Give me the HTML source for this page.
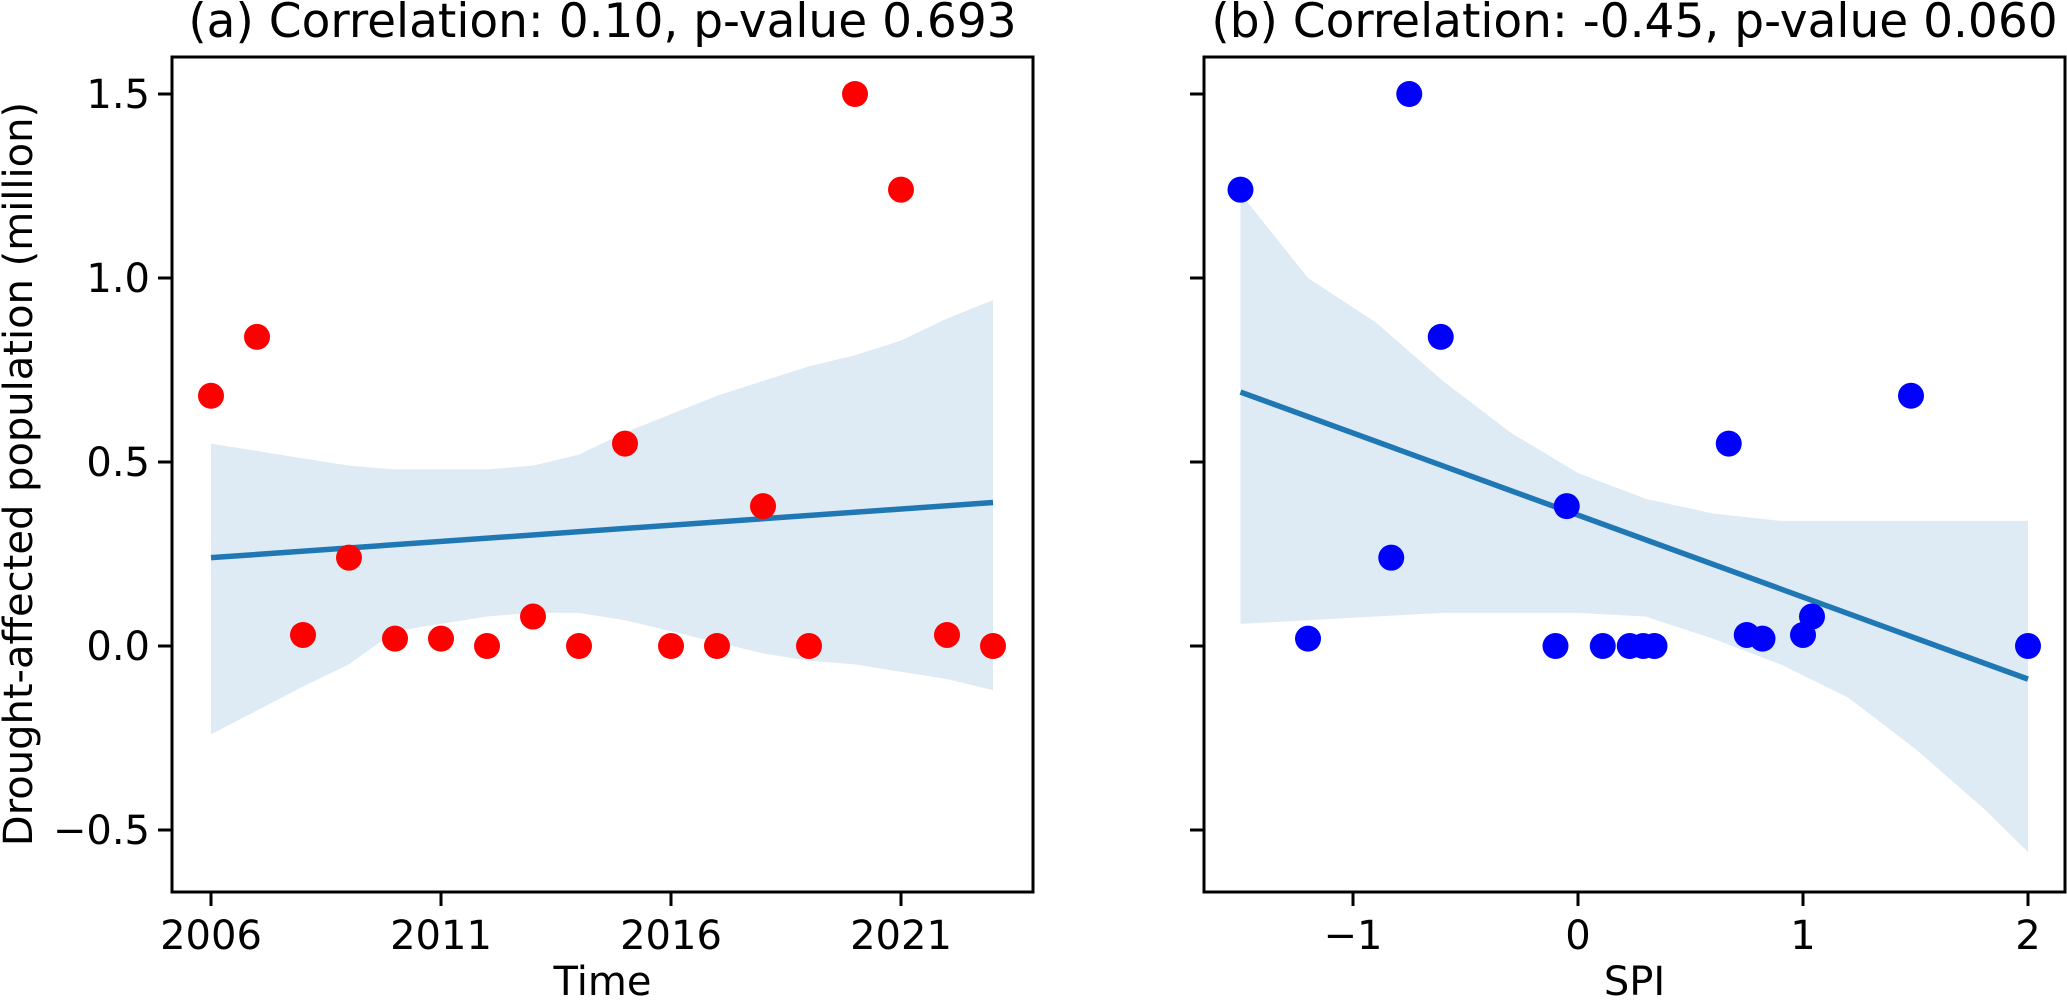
<!DOCTYPE html>
<html><head><meta charset="utf-8"><style>
html,body{margin:0;padding:0;background:#fff;}
svg{display:block;font-family:"DejaVu Sans","Liberation Sans",sans-serif;}
</style></head><body>
<svg id="fig" width="2067" height="1003" viewBox="0 0 2067 1003"></svg>
<script>
const years=[2006,2007,2008,2009,2010,2011,2012,2013,2014,2015,2016,2017,2018,2019,2020,2021,2022,2023];
const popA=[0.68,0.84,0.03,0.24,0.02,0.02,0.0,0.08,0.0,0.55,0.0,0.0,0.38,0.0,1.5,1.24,0.03,0.0];
const spi=[-1.5,-1.2,-0.83,-0.75,-0.61,-0.1,-0.05,0.11,0.23,0.29,0.34,0.67,0.75,0.82,1.0,1.04,1.48,2.0];
const popB=[1.24,0.02,0.24,1.5,0.84,0.0,0.38,0.0,0.0,0.0,0.0,0.55,0.03,0.02,0.03,0.08,0.68,0.0];
const fitA=[0.24,0.39];
const fitB=[0.69,-0.09];
const bandAx=[2006,2008,2009,2010,2011,2012,2013,2014,2015,2016,2017,2018,2019,2020,2021,2022,2023];
const bandAup=[0.55,0.51,0.49,0.48,0.48,0.48,0.49,0.52,0.58,0.63,0.68,0.72,0.76,0.79,0.83,0.89,0.94];
const bandAlo=[-0.24,-0.11,-0.05,0.04,0.06,0.08,0.09,0.09,0.07,0.04,0.01,-0.02,-0.04,-0.05,-0.07,-0.09,-0.12];
const bandBx=[-1.5,-1.2,-0.9,-0.6,-0.3,0,0.3,0.6,0.9,1.2,1.5,1.8,2.0];
const bandBup=[1.23,1.0,0.88,0.72,0.58,0.47,0.40,0.36,0.34,0.34,0.34,0.34,0.34];
const bandBlo=[0.06,0.07,0.08,0.09,0.09,0.09,0.08,0.02,-0.05,-0.14,-0.28,-0.44,-0.56];
const yTicks=[-0.5,0,0.5,1.0,1.5];
const yTickLabels=["\u22120.5","0.0","0.5","1.0","1.5"];
const xTicksA=[2006,2011,2016,2021];
const xTickLabelsA=["2006","2011","2016","2021"];
const xTicksB=[-1,0,1,2];
const xTickLabelsB=["\u22121","0","1","2"];

const NS="http://www.w3.org/2000/svg";
const svg=document.getElementById('fig');
function mk(tag,attrs,parent){const e=document.createElementNS(NS,tag);for(const k in attrs)e.setAttribute(k,attrs[k]);(parent||svg).appendChild(e);return e;}
const T=57,B=892;
const yS=v=>646-368*v;
const xA=v=>211+(v-2006)*46.0;
const xB=v=>1578+v*225;

function panel(name,L,R,xf,xv,yv,bx,bup,blo,fit,fitX,color,xt,xtl,showYLabels,title,xlabel){
  const g=mk('g',{});
  
  
  let d='M'+bx.map((x,i)=>xf(x)+','+yS(bup[i])).join(' L');
  for(let i=bx.length-1;i>=0;i--)d+=' L'+xf(bx[i])+','+yS(blo[i]);
  const band=mk('path',{d:d+'Z',fill:'#1f77b4','fill-opacity':0.15,stroke:'none'},g);
  
  
  const ln=mk('line',{x1:xf(fitX[0]),y1:yS(fit[0]),x2:xf(fitX[1]),y2:yS(fit[1]),stroke:'#1f77b4','stroke-width':5.5},g);
  
  
  xv.forEach((x,i)=>{const c=mk('circle',{cx:xf(x),cy:yS(yv[i]),r:13,fill:color},g);
    
    });
  const fr=mk('rect',{x:L,y:T,width:R-L,height:B-T,fill:'none',stroke:'#000','stroke-width':3},g);
  
  
  yTicks.forEach((v,i)=>{mk('line',{x1:L-14,x2:L,y1:yS(v),y2:yS(v),stroke:'#000','stroke-width':3},g);
    if(showYLabels){const t=mk('text',{x:L-22,y:yS(v)+14,'text-anchor':'end','font-size':40},g);t.textContent=yTickLabels[i];
      
      }});
  xt.forEach((v,i)=>{mk('line',{x1:xf(v),x2:xf(v),y1:B,y2:B+14,stroke:'#000','stroke-width':3},g);
    const t=mk('text',{x:xf(v),y:949,'text-anchor':'middle','font-size':40},g);t.textContent=xtl[i];
    
    });
  const ti=mk('text',{x:(L+R)/2,y:37,'text-anchor':'middle','font-size':47},g);ti.textContent=title;
  
  
  const xl=mk('text',{x:(L+R)/2,y:995,'text-anchor':'middle','font-size':40},g);xl.textContent=xlabel;
  
  
}
panel('panel-a-time',172,1033,xA,years,popA,bandAx,bandAup,bandAlo,fitA,[2006,2023],'#ff0000',xTicksA,xTickLabelsA,true,'(a) Correlation: 0.10, p-value 0.693','Time');
panel('panel-b-spi',1204,2065,xB,spi,popB,bandBx,bandBup,bandBlo,fitB,[-1.5,2.0],'#0000ff',xTicksB,xTickLabelsB,false,'(b) Correlation: -0.45, p-value 0.060','SPI');
const yl=mk('text',{x:0,y:0,'text-anchor':'middle','font-size':40,transform:'translate(32,474) rotate(-90)'});
yl.textContent='Drought-affected population (million)';


</script>
</body></html>
